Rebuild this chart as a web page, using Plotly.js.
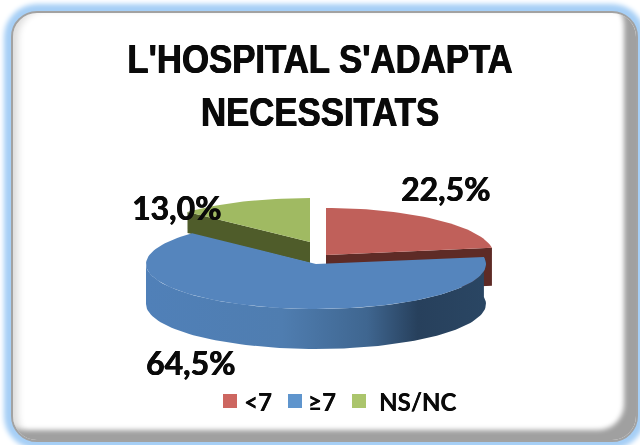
<!DOCTYPE html>
<html><head><meta charset="utf-8">
<script src="https://cdn.plot.ly/plotly-3.0.1.min.js"></script>
<style>
html,body{margin:0;padding:0;background:#fff;width:640px;height:445px;overflow:hidden}
#frame{position:absolute;left:11px;top:11px;width:627px;height:431px;border-radius:26px;background:#fff;box-sizing:border-box;
 border:2px solid #a2a2a2;
 box-shadow:0 0 5px 7px #a6cff6, inset -14px -12px 5px -2px #a0a0a0, inset 8px 0 7px -3px #dcdcdc;}
#chart{position:absolute;left:0;top:0;width:640px;height:445px;filter:blur(0.4px)}
</style></head><body>
<div id="frame"></div>
<div id="chart"></div>
<script>
const categories = ['<7', '≥7', 'NS/NC'];
const values = [22.5, 64.5, 13.0];

// Projected-pie geometry, in pixel units of the hidden axes
const geom = [
  {cx:326, cy:255, rx:168, ry:47, depth:38},
  {cx:316, cy:264, rx:170, ry:45, depth:40},
  {cx:310, cy:242, rx:168, ry:44, depth:21}
];
const topCol  = ['#c0605a', '#5585bd', '#a0ba62'];
const sideCol = ['#5e2b26', '#2a4663', '#4f5c2a'];
const legCol  = ['#cd6660', '#5f95cd', '#abc56c'];
const labelPos = [[445,188],[190,362],[176,207]];
const keyX = [230, 295, 359], keyTextX = [243, 307, 378], keyY = 401;

const total = values.reduce((a,b)=>a+b,0);
let acc = 0;
const slices = values.map(v => { const s = acc/total*360; acc += v; return {s, e: acc/total*360}; });
const pt = (g,a,d=0) => { const r=a*Math.PI/180; return [g.cx+g.rx*Math.sin(r), g.cy-g.ry*Math.cos(r)+d]; };
function arc(g,a,b,d=0){ const out=[]; const n=Math.max(2,Math.ceil(Math.abs(b-a)/2));
  for(let i=0;i<=n;i++) out.push(pt(g,a+(b-a)*i/n,d)); return out; }
function poly(points, color, extra){
  return Object.assign({type:'scatter',mode:'lines',x:points.map(p=>p[0]),y:points.map(p=>p[1]),
    fill:'toself',fillcolor:color,line:{width:0,color:color},hoverinfo:'skip',showlegend:false},extra||{});
}
const apex = g => [g.cx,g.cy];
const traces = [];
{ const g=geom[2], sl=slices[2], t=pt(g,sl.s);
  traces.push(poly([apex(g),t,[t[0],t[1]+g.depth],[g.cx,g.cy+g.depth]],sideCol[2]));
  traces.push(poly([apex(g),...arc(g,sl.s,sl.e)],topCol[2])); }
{ const g=geom[0], sl=slices[0], t=pt(g,sl.e);
  traces.push(poly([apex(g),t,[t[0],t[1]+g.depth],[g.cx,g.cy+g.depth]],sideCol[0]));
  traces.push(poly([apex(g),...arc(g,sl.s,sl.e)],topCol[0])); }
{ const g=geom[1], sl=slices[1];
  const topArc=arc(g,sl.s,270), botArc=arc(g,270,sl.s,g.depth);
  traces.push(poly([...topArc,...botArc],sideCol[1],{fillgradient:{type:'horizontal',
    colorscale:[[0,'#5080b8'],[0.4,'#4f7db0'],[0.65,'#3f6690'],[0.8,'#27405c'],[1,'#2a4663']]}}));
  traces.push(poly([apex(g),...arc(g,sl.s,sl.e)],topCol[1])); }
// colour key
traces.push({type:'scatter',mode:'markers',x:keyX,y:keyX.map(()=>keyY),showlegend:false,hoverinfo:'skip',
  marker:{symbol:'square',size:14,color:legCol}});

const thick = '0.5px 0 0 #0a0a0a, -0.3px 0 0 #0a0a0a';
const pctFont = {family:'Lato, "Open Sans", sans-serif',size:32,color:'#0a0a0a',weight:700,shadow:thick};
const annotations = values.map((v,i)=>({x:labelPos[i][0],y:labelPos[i][1],xref:'x',yref:'y',showarrow:false,
  text:'<b>'+v.toFixed(1).replace('.',',')+'%</b>',font:pctFont}));
categories.forEach((c,i)=>annotations.push({x:keyTextX[i],y:keyY,xref:'x',yref:'y',showarrow:false,xanchor:'left',
  xshift:-1,text:'<b>'+c.replace('<','&lt;')+'</b>',
  font:{family:'Lato, "Open Sans", sans-serif',size:24,color:'#0a0a0a',weight:700,shadow:'0.3px 0 0 #0a0a0a'}}));

Plotly.newPlot('chart',traces,{
  width:640,height:445,margin:{l:0,r:0,t:0,b:0},
  paper_bgcolor:'rgba(0,0,0,0)',plot_bgcolor:'rgba(0,0,0,0)',
  title:{text:"<b>L'HOSPITAL S'ADAPTA<br>NECESSITATS</b>",x:0.5,xanchor:'center',y:0.836,yanchor:'top',
    font:{family:'"Liberation Sans", sans-serif',size:41,color:'#0a0a0a',shadow:'0.6px 0 0 #0a0a0a, -0.4px 0 0 #0a0a0a'}},
  xaxis:{range:[0,640],visible:false,fixedrange:true},
  yaxis:{range:[445,0],visible:false,fixedrange:true},
  annotations:annotations,showlegend:false
},{displayModeBar:false,staticPlot:true}).then(()=>{
  const t=document.querySelector('.gtitle');
  if(t) t.setAttribute('transform','translate(320,0) scale(0.848,1) translate(-320,0)');
});
</script>
</body></html>
